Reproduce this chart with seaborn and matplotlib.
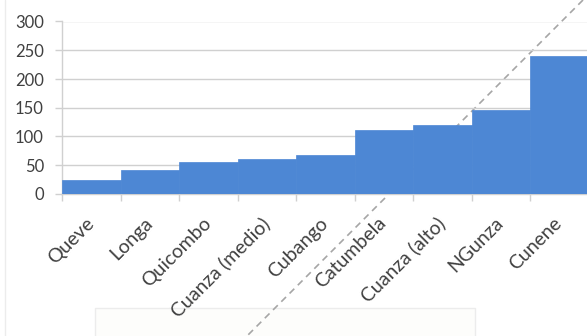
import matplotlib
matplotlib.use("Agg")
import matplotlib.pyplot as plt
from matplotlib.lines import Line2D
from matplotlib.patches import Rectangle
import numpy as np
import pandas as pd
import seaborn as sns

# River basins sorted by value
rivers = ["Queve", "Longa", "Quicombo", "Cuanza (medio)", "Cubango",
          "Catumbela", "Cuanza (alto)", "NGunza", "Cunene"]
values = [24, 42, 55, 60, 67, 112, 120, 146, 240]
y_ticks = [0, 50, 100, 150, 200, 250, 300]

sns.set_theme(style="white")
plt.rcParams["font.family"] = ["Lato", "DejaVu Sans"]

text_color = "#404040"
grid_color = "#d0d0d0"
bar_color = "#4d87d4"

fig = plt.figure(figsize=(5.87, 3.36), dpi=100)
fig.patch.set_facecolor("white")

# Light frame edge of the slide
fig.add_artist(Line2D([0.008, 0.008], [0, 1], transform=fig.transFigure,
                      color="#ececec", lw=1.0, zorder=0))

# Diagonal dashed guide crossing the whole figure, hidden behind bars
x0, y0 = 583 / 587, 1 - 0 / 336
x1, y1 = 240 / 587, 1 - 343 / 336
fig.add_artist(Line2D([x0, x1], [y0, y1], transform=fig.transFigure,
                      color="#a6a6a6", lw=1.2, ls=(0, (4, 3)), zorder=0.5))

# Faint box below the chart
fig.add_artist(Rectangle((95 / 587, -0.05), 380 / 587, 28 / 336 + 0.05,
                         transform=fig.transFigure, facecolor="#fdfdfb",
                         edgecolor="#ececec", lw=1.0, zorder=0.2))

ax = fig.add_axes([62 / 587, 1 - 194 / 336, 526.5 / 587, 172.5 / 336])
ax.patch.set_alpha(0)
ax.set_zorder(1)

df = pd.DataFrame({"river": rivers, "value": values})
sns.barplot(data=df, x="river", y="value", color=bar_color, width=1.0,
            saturation=1, edgecolor=bar_color, linewidth=0.5, ax=ax, zorder=3)

ax.set_xlim(-0.5, len(rivers) - 0.5)
ax.set_ylim(0, 300)
ax.set_yticks(y_ticks)
ax.yaxis.grid(True, color=grid_color, lw=1.0, zorder=0)
ax.xaxis.grid(False)
ax.set_xlabel("")
ax.set_ylabel("")

for side in ["top", "right"]:
    ax.spines[side].set_visible(False)
ax.spines["left"].set_color(grid_color)
ax.spines["bottom"].set_color(grid_color)
ax.spines["left"].set_linewidth(1.0)
ax.spines["bottom"].set_linewidth(1.0)

# Category boundary ticks on x, labels centered in each bin
ax.set_xticks(np.arange(len(rivers)))
ax.set_xticklabels(rivers, rotation=45, ha="right", va="center",
                   rotation_mode="anchor", color=text_color, fontsize=14)
ax.set_xticks(np.arange(len(rivers) + 1) - 0.5, minor=True)
ax.tick_params(axis="x", which="major", length=0, pad=19)
ax.tick_params(axis="x", which="minor", length=5, color=grid_color,
               width=1.0, direction="out", bottom=True)
ax.tick_params(axis="y", length=5, color=grid_color, width=1.0,
               direction="out", left=True, labelsize=12,
               labelcolor=text_color, pad=8)

fig.savefig("out.png", dpi=100)
